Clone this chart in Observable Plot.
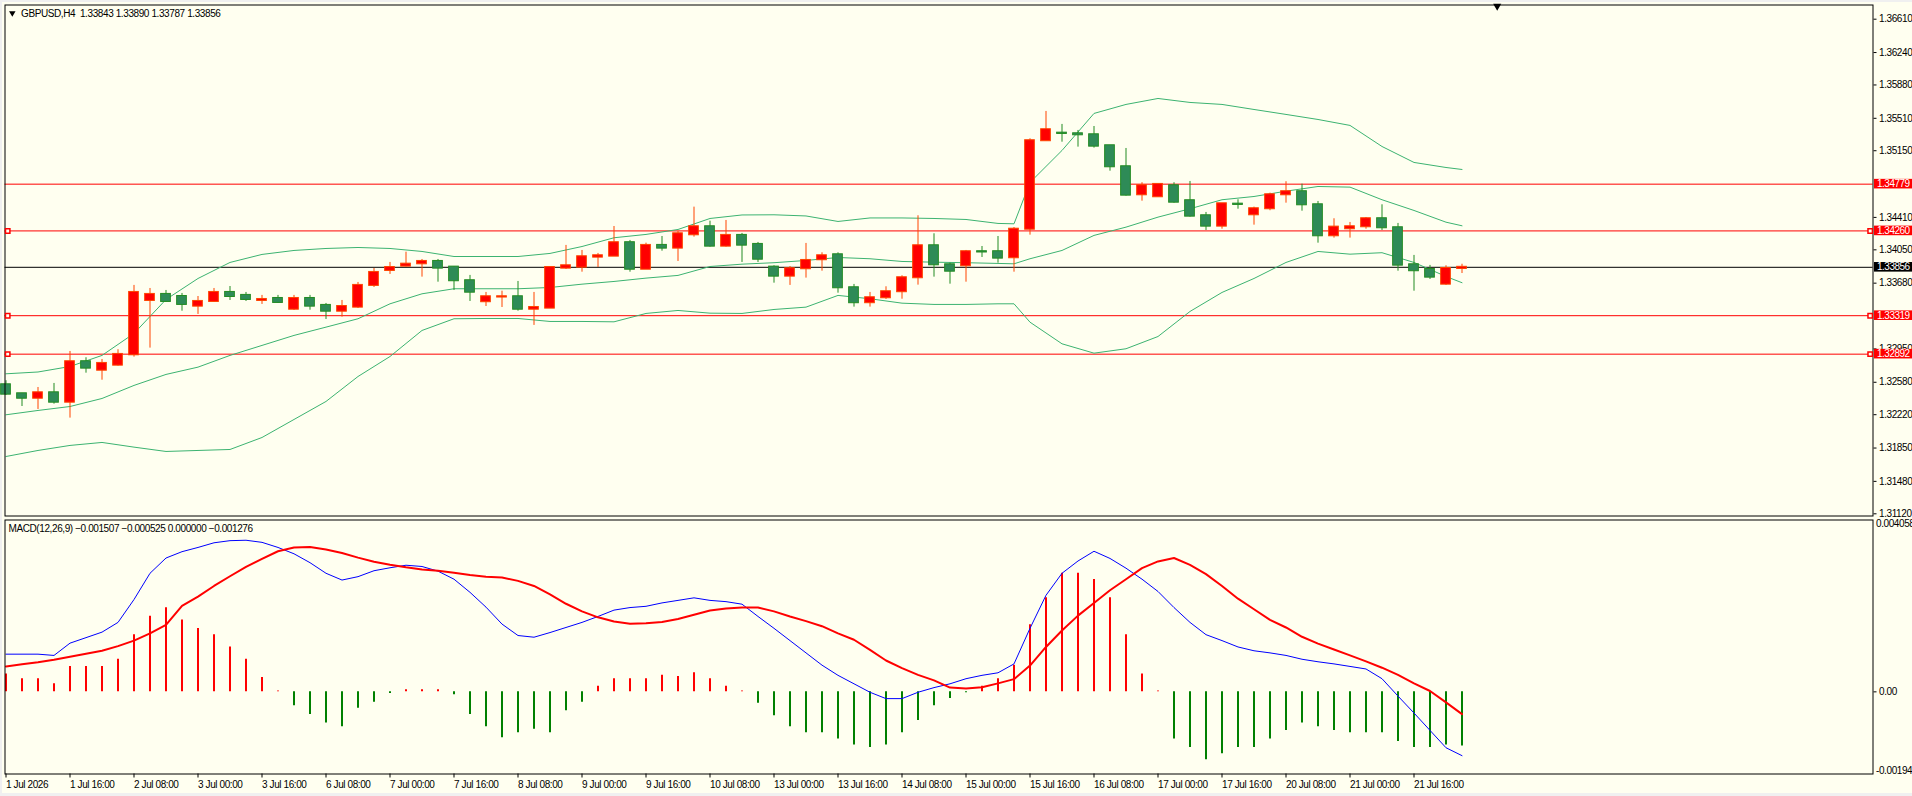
<!DOCTYPE html>
<html><head><meta charset="utf-8">
<script src="https://cdn.jsdelivr.net/npm/d3@7"></script>
<script src="https://cdn.jsdelivr.net/npm/@observablehq/plot@0.6"></script>
<style>
html,body{margin:0;padding:0;background:#f0f0f0;}
#wrap{position:relative;width:1912px;height:796px;overflow:hidden;background:#f0f0f0;}
#win{position:absolute;left:2px;top:2px;width:1910px;height:791px;background:#fffff0;}
#wrap svg{position:absolute;left:0;}
</style></head><body><div id="wrap"><div id="win"></div></div>
<script>
// ---------- DATA ----------
const symbol = "GBPUSD", timeframe = "H4";
const opens = [1.32552,1.32452,1.32403,1.32463,1.32359,1.32808,1.32714,1.32770,1.32885,1.33488,
1.33555,1.33532,1.33425,1.33477,1.33577,1.33544,1.33488,1.33510,1.33391,1.33510,
1.33433,1.33369,1.33414,1.33655,1.33821,1.33869,1.33895,1.33921,1.33858,1.33707,
1.33474,1.33526,1.33529,1.33391,1.33403,1.33847,1.33858,1.33969,1.33980,1.34129,
1.33835,1.34099,1.34069,1.34217,1.34306,1.34091,1.34210,1.34110,1.33858,1.33758,
1.33840,1.33940,1.33995,1.33629,1.33463,1.33518,1.33585,1.33740,1.34095,1.33884,
1.33873,1.34029,1.34029,1.33962,1.34279,1.35261,1.35345,1.35338,1.35327,1.35205,
1.34972,1.34661,1.34639,1.34761,1.34595,1.34428,1.34313,1.34557,1.34439,1.34506,
1.34661,1.34695,1.34550,1.34206,1.34284,1.34306,1.34395,1.34295,1.33884,1.33832,
1.33669,1.33843];
const highs = [1.32597,1.32456,1.32522,1.32567,1.32922,1.32852,1.32833,1.32941,1.33655,1.33621,
1.33599,1.33566,1.33532,1.33621,1.33643,1.33577,1.33544,1.33544,1.33544,1.33544,
1.33455,1.33488,1.33688,1.33843,1.33910,1.34024,1.33943,1.33943,1.33865,1.33766,
1.33577,1.33591,1.33699,1.33577,1.33865,1.34099,1.34043,1.34010,1.34309,1.34154,
1.34124,1.34198,1.34254,1.34524,1.34368,1.34376,1.34232,1.34132,1.33873,1.33865,
1.34121,1.34017,1.34017,1.33666,1.33577,1.33640,1.33762,1.34428,1.34228,1.33902,
1.34043,1.34087,1.34198,1.34298,1.35283,1.35586,1.35442,1.35375,1.35419,1.35208,
1.35175,1.34795,1.34776,1.34795,1.34809,1.34465,1.34561,1.34606,1.34524,1.34679,
1.34806,1.34779,1.34587,1.34395,1.34354,1.34409,1.34550,1.34343,1.33988,1.33877,
1.33873,1.33890];
const lows = [1.32434,1.32311,1.32278,1.32337,1.32182,1.32681,1.32603,1.32759,1.32859,1.32959,
1.33466,1.33369,1.33333,1.33466,1.33488,1.33477,1.33444,1.33458,1.33377,1.33380,
1.33277,1.33303,1.33399,1.33632,1.33777,1.33860,1.33747,1.33691,1.33599,1.33477,
1.33421,1.33410,1.33369,1.33211,1.33399,1.33832,1.33802,1.33854,1.33980,1.33802,
1.33835,1.34035,1.33921,1.34191,1.34080,1.34080,1.33910,1.33910,1.33680,1.33655,
1.33736,1.33813,1.33569,1.33414,1.33414,1.33499,1.33502,1.33658,1.33747,1.33669,
1.33691,1.33965,1.33902,1.33802,1.34213,1.35261,1.35245,1.35190,1.35179,1.34923,
1.34646,1.34590,1.34639,1.34568,1.34413,1.34265,1.34279,1.34501,1.34324,1.34484,
1.34568,1.34479,1.34124,1.34180,1.34180,1.34279,1.34265,1.33813,1.33591,1.33721,
1.33655,1.33787];
const closes = [1.32448,1.32403,1.32463,1.32359,1.32808,1.32737,1.32789,1.32889,1.33577,1.33555,
1.33477,1.33444,1.33477,1.33577,1.33532,1.33499,1.33499,1.33466,1.33510,1.33425,
1.33369,1.33421,1.33655,1.33799,1.33854,1.33891,1.33921,1.33847,1.33707,1.33580,
1.33529,1.33529,1.33391,1.33410,1.33854,1.33873,1.33973,1.33984,1.34129,1.33835,
1.34099,1.34069,1.34228,1.34306,1.34091,1.34210,1.34102,1.33946,1.33758,1.33840,
1.33932,1.33984,1.33629,1.33463,1.33518,1.33585,1.33740,1.34095,1.33884,1.33813,
1.34029,1.34026,1.33958,1.34279,1.35261,1.35383,1.35342,1.35327,1.35201,1.34972,
1.34657,1.34761,1.34776,1.34579,1.34424,1.34313,1.34561,1.34554,1.34506,1.34661,
1.34695,1.34550,1.34206,1.34302,1.34306,1.34395,1.34295,1.33880,1.33818,1.33747,
1.33843,1.33856];

// Bollinger Bands (20, 2) read at these bars
const bbBars = [0,2,4,6,8,10,12,14,16,18,20,22,24,26,28,30,32,34,36,38,40,42,44,46,48,50,52,54,56,58,60,62,63,64,66,68,70,72,74,76,78,80,82,84,86,88,90,91];
const bbUpper = [1.32674,1.32694,1.32755,1.32878,1.33122,1.33499,1.33732,1.33910,1.33999,1.34043,1.34065,1.34076,1.34065,1.34032,1.33976,1.33976,1.33976,1.34010,1.34087,1.34184,1.34221,1.34276,1.34398,1.34437,1.34439,1.34426,1.34365,1.34404,1.34404,1.34398,1.34387,1.34343,1.34339,1.34798,1.35153,1.35564,1.35664,1.35730,1.35686,1.35664,1.35608,1.35553,1.35497,1.35431,1.35197,1.35020,1.34964,1.34942];
const bbMiddle = [1.32219,1.32267,1.32311,1.32400,1.32545,1.32667,1.32748,1.32878,1.32989,1.33100,1.33192,1.33285,1.33451,1.33562,1.33618,1.33618,1.33618,1.33632,1.33669,1.33699,1.33736,1.33766,1.33865,1.33891,1.33907,1.33932,1.33965,1.33951,1.33921,1.33913,1.33907,1.33899,1.33895,1.33951,1.34043,1.34210,1.34302,1.34413,1.34506,1.34606,1.34642,1.34701,1.34753,1.34746,1.34606,1.34487,1.34357,1.34317];
const bbLower = [1.31756,1.31823,1.31879,1.31912,1.31860,1.31812,1.31823,1.31834,1.31967,1.32167,1.32367,1.32644,1.32866,1.33155,1.33285,1.33288,1.33288,1.33255,1.33255,1.33251,1.33344,1.33377,1.33347,1.33344,1.33388,1.33414,1.33544,1.33507,1.33458,1.33444,1.33444,1.33451,1.33451,1.33247,1.33007,1.32903,1.32952,1.33088,1.33366,1.33577,1.33732,1.33910,1.34032,1.34002,1.34018,1.33910,1.33754,1.33685];

// Horizontal lines
const redLevels = [1.34779, 1.34260, 1.33319, 1.32892];
const markedLevels = [1.34260, 1.33319, 1.32892];

// Price axis ticks (the ones not hidden under a price box)
const priceTicks = [1.36610,1.36240,1.35880,1.35510,1.35150,1.34410,1.34050,1.33680,1.32950,1.32580,1.32220,1.31850,1.31480,1.31120];
const priceDomain = [1.310956, 1.367676];

// MACD(12,26,9)
const macdMain = [0.00089,0.00089,0.00089,0.00086,0.00115,0.00128,0.00141,0.00164,0.00218,0.00280,
0.00316,0.00331,0.00341,0.00352,0.00357,0.00358,0.00353,0.00341,0.00326,0.00305,
0.00280,0.00264,0.00272,0.00286,0.00293,0.00299,0.00296,0.00285,0.00266,0.00235,
0.00200,0.00160,0.00133,0.00129,0.00140,0.00152,0.00164,0.00178,0.00193,0.00199,
0.00202,0.00210,0.00216,0.00222,0.00216,0.00213,0.00207,0.00178,0.00150,0.00121,
0.00092,0.00063,0.00039,0.00019,-0.00001,-0.00016,-0.00016,-0.00001,0.00010,0.00019,
0.00031,0.00039,0.00045,0.00066,0.00150,0.00228,0.00280,0.00309,0.00332,0.00315,
0.00292,0.00266,0.00237,0.00199,0.00164,0.00135,0.00121,0.00106,0.00097,0.00092,
0.00086,0.00077,0.00071,0.00066,0.00060,0.00054,0.00031,-0.00010,-0.00050,-0.00091,
-0.00132,-0.001507];
const macdSignal = [0.00060,0.00065,0.00070,0.00076,0.00083,0.00090,0.00097,0.00108,0.00121,0.00138,
0.00158,0.00203,0.00225,0.00250,0.00273,0.00295,0.00314,0.00332,0.00341,0.00342,
0.00336,0.00328,0.00317,0.00307,0.00300,0.00294,0.00289,0.00286,0.00281,0.00276,
0.00272,0.00270,0.00262,0.00250,0.00230,0.00208,0.00190,0.00176,0.00166,0.00161,
0.00162,0.00165,0.00172,0.00182,0.00192,0.00197,0.00199,0.00199,0.00190,0.00178,
0.00167,0.00155,0.00138,0.00123,0.00099,0.00074,0.00056,0.00040,0.00027,0.00010,
0.00008,0.00011,0.00020,0.00030,0.00062,0.00106,0.00145,0.00180,0.00210,0.00240,
0.00266,0.00292,0.00308,0.00316,0.00300,0.00278,0.00250,0.00220,0.00195,0.00170,
0.00152,0.00130,0.00114,0.00100,0.00086,0.00072,0.00057,0.00040,0.00020,0.00002,
-0.00025,-0.000525];
const macdHist = [0.000423,0.000307,0.000307,0.000191,0.000597,0.000597,0.000597,0.000771,0.00135,0.001785,
0.001988,0.001698,0.001495,0.00135,0.001061,0.000771,0.000336,0.00002,-0.00033,-0.000533,
-0.000736,-0.000823,-0.000388,-0.000243,-0.00004,0.00005,0.00005,0.00005,-0.00007,-0.000533,
-0.000823,-0.001084,-0.000968,-0.000881,-0.000968,-0.000446,-0.000243,0.000133,0.000307,0.000307,
0.000307,0.000394,0.000365,0.000452,0.000307,0.000133,0.00002,-0.000272,-0.000562,-0.000823,
-0.000968,-0.000968,-0.001113,-0.001258,-0.001316,-0.001258,-0.000968,-0.000678,-0.00033,-0.000156,
-0.00002,0.000133,0.000307,0.000626,0.001582,0.00222,0.0028,0.0028,0.002655,0.00222,
0.00135,0.000423,0.00002,-0.001113,-0.001316,-0.001605,-0.001461,-0.001316,-0.001316,-0.001113,
-0.00091,-0.000736,-0.000823,-0.00091,-0.000968,-0.000968,-0.000968,-0.001171,-0.001316,-0.001316,
-0.001258,-0.001276];
const macdDomain = [-0.00194, 0.004058];

// Time axis
const xTickBars = [0,4,8,12,16,20,24,28,32,36,40,44,48,52,56,60,64,68,72,76,80,84,88];
const xTickLabels = ["1 Jul 2026","1 Jul 16:00","2 Jul 08:00","3 Jul 00:00","3 Jul 16:00","6 Jul 08:00","7 Jul 00:00","7 Jul 16:00","8 Jul 08:00","9 Jul 00:00","9 Jul 16:00","10 Jul 08:00","13 Jul 00:00","13 Jul 16:00","14 Jul 08:00","15 Jul 00:00","15 Jul 16:00","16 Jul 08:00","17 Jul 00:00","17 Jul 16:00","20 Jul 08:00","21 Jul 00:00","21 Jul 16:00"];

// ---------- BUILD ----------
const n = closes.length;
const UP_FILL = "#ff0000", UP_EDGE = "#ff4500", DN_FILL = "#2e8b57", DN_EDGE = "#228b22";
const BB = "#3cb371", IVORY = "#fffff0";
const W = 1912, ML = 4.5, MR = 39.5;
const barPx = 16;
const xDomain = [-1 / barPx, -1 / barPx + (W - ML - MR) / barPx];
const fmt5 = d3.format(".5f"), fmt6 = d3.format(".6f");
const candles = d3.range(n).map(i => ({i, o: opens[i], h: highs[i], l: lows[i], c: closes[i], up: closes[i] >= opens[i]}));
const bb = bbBars.map((b, k) => ({i: b, u: bbUpper[k], m: bbMiddle[k], l: bbLower[k]}));
const macd = d3.range(n).map(i => ({i, m: macdMain[i], s: macdSignal[i], h: macdHist[i]}));
const labelByBar = new Map(xTickBars.map((b, k) => [b, xTickLabels[k]]));
const font = {background: "transparent", fontFamily: "'Liberation Sans', Arial, sans-serif", fontSize: "10px", letterSpacing: "-0.4px", color: "black", overflow: "visible"};
const last = candles[n - 1];
const title = `${symbol},${timeframe}\u00a0 ${fmt5(last.o)} ${fmt5(last.h)} ${fmt5(last.l)} ${fmt5(last.c)}`;

const main = Plot.plot({
  width: W, height: 517,
  marginLeft: ML, marginRight: MR, marginTop: 4.5, marginBottom: 1.5,
  style: font,
  x: {domain: xDomain, axis: null},
  y: {domain: priceDomain, axis: null},
  color: {type: "identity"},
  marks: [
    Plot.ruleY(redLevels, {stroke: "#ff0000"}),
    Plot.ruleY([last.c], {stroke: "black"}),
    Plot.line(bb, {x: "i", y: "u", stroke: BB, strokeWidth: 1}),
    Plot.line(bb, {x: "i", y: "m", stroke: BB, strokeWidth: 1}),
    Plot.line(bb, {x: "i", y: "l", stroke: BB, strokeWidth: 1}),
    Plot.ruleX(candles, {x: "i", y1: "l", y2: "h", stroke: d => d.up ? UP_EDGE : DN_EDGE, strokeWidth: 1}),
    Plot.rect(candles, {x1: d => d.i - 0.5, x2: d => d.i + 0.5, y1: "o", y2: "c",
      insetLeft: 3.15, insetRight: 3.15, insetTop: -0.5, insetBottom: -0.5,
      fill: d => d.up ? UP_FILL : DN_FILL, stroke: d => d.up ? UP_EDGE : DN_EDGE, strokeWidth: 1}),
    Plot.axisY({anchor: "right", ticks: priceTicks, tickFormat: fmt5, tickSize: 3, tickPadding: 3, label: null, textAnchor: "start"}),
    Plot.frame({stroke: "black"}),
    Plot.dot(markedLevels, {y: d => d, frameAnchor: "left", dx: 2.7, symbol: "square", r: 2.5, fill: IVORY, stroke: "#ff0000"}),
    Plot.dot(markedLevels, {y: d => d, frameAnchor: "right", dx: -2.8, symbol: "square", r: 2.5, fill: IVORY, stroke: "#ff0000"}),
    Plot.dot([0], {frameAnchor: "top-left", dx: 7.3, dy: 8, symbol: "triangle", rotate: 180, r: 2.4, fill: "black", stroke: "none"}),
    Plot.text([title], {frameAnchor: "top-left", dx: 16, dy: 8.3, textAnchor: "start", lineAnchor: "middle", fill: "black"}),
    Plot.dot([n + 1.2], {x: d => d, frameAnchor: "top", dy: 1.2, symbol: "triangle", rotate: 180, r: 3, fill: "black", stroke: "none"})
  ]
});
main.style.top = "0px";

// price boxes on the right axis
{
  const ys = main.scale("y");
  const svg = d3.select(main);
  const boxes = redLevels.map(v => [v, "#ff0000"]).concat([[last.c, "#000000"]]);
  for (const [v, col] of boxes) {
    const y = ys.apply(v);
    svg.append("rect").attr("x", W - MR + 1.5).attr("y", y - 4.8).attr("width", MR).attr("height", 9.6).attr("fill", col);
    svg.append("text").attr("x", W - MR + 4.5).attr("y", y).attr("dy", "0.36em")
      .attr("text-anchor", "start").attr("fill", "white").style("letter-spacing", "-0.5px").text(fmt5(v));
  }
}

const macdTitle = `MACD(12,26,9) ${fmt6(macdMain[n-1])} ${fmt6(macdSignal[n-1])} ${fmt6(Math.max(0, macdHist[n-1]))} ${fmt6(Math.min(0, macdHist[n-1]))}`;
const sub = Plot.plot({
  width: W, height: 279,
  marginLeft: ML, marginRight: MR, marginTop: 2.5, marginBottom: 22.5,
  style: font,
  x: {domain: xDomain, axis: null},
  y: {domain: macdDomain, axis: null},
  color: {type: "identity"},
  marks: [
    Plot.ruleX(macd, {x: "i", y1: 0, y2: "h", stroke: d => d.h >= 0 ? "#ff0000" : "#008000", strokeWidth: 2}),
    Plot.line(macd, {x: "i", y: "m", stroke: "#0000ff", strokeWidth: 1}),
    Plot.line(macd, {x: "i", y: "s", stroke: "#ff0000", strokeWidth: 2}),
    Plot.frame({stroke: "black"}),
    Plot.axisY({anchor: "right", ticks: [0], tickFormat: () => "0.00", tickSize: 3, tickPadding: 3, label: null, textAnchor: "start"}),
    Plot.text([macdDomain[1]], {y: d => d, frameAnchor: "right", dx: 3, textAnchor: "start", lineAnchor: "top", text: d => String(d), fill: "black", letterSpacing: "-0.6px"}),
    Plot.text([macdDomain[0]], {y: d => d, frameAnchor: "right", dx: 3, textAnchor: "start", lineAnchor: "bottom", text: d => String(d), fill: "black"}),
    Plot.axisX({anchor: "bottom", ticks: xTickBars, tickFormat: d => labelByBar.get(d), tickSize: 4, tickPadding: 3, textAnchor: "start", label: null}),
    Plot.text([macdTitle], {frameAnchor: "top-left", dx: 3.5, dy: 8.5, textAnchor: "start", lineAnchor: "middle", fill: "black"})
  ]
});
sub.style.top = "517px";

document.getElementById("wrap").append(main, sub);
</script>
</body></html>
